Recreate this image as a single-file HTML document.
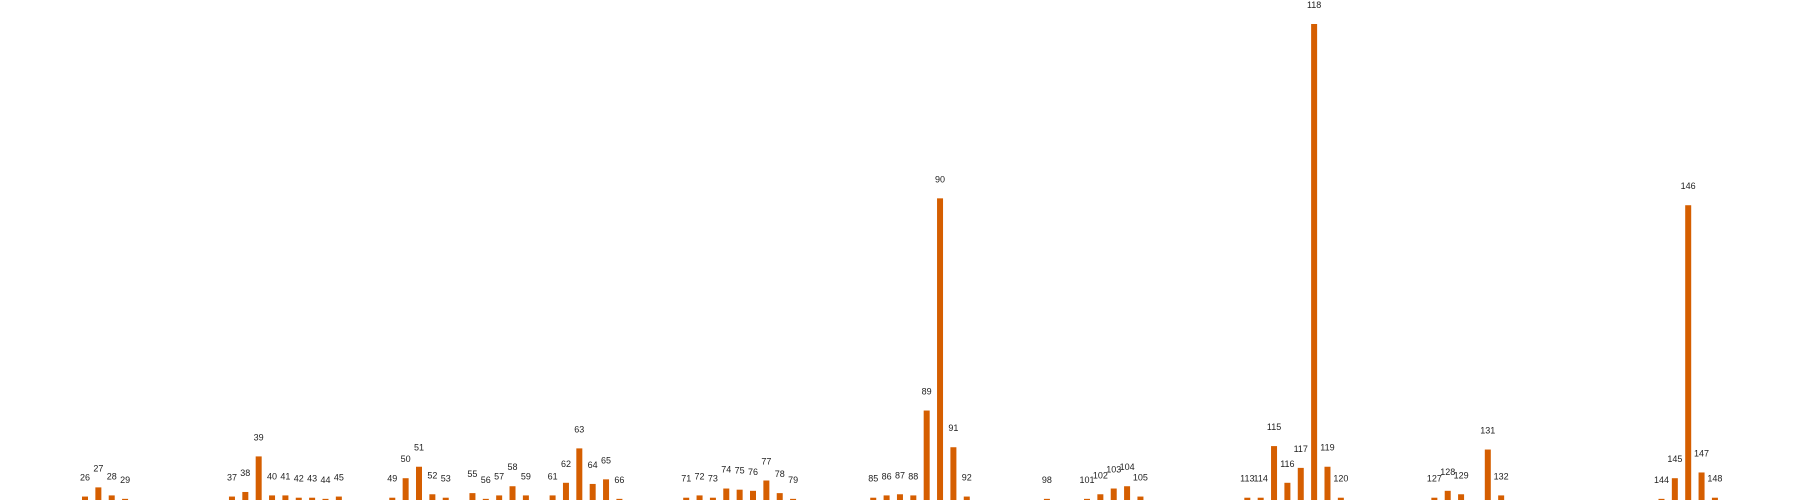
<!DOCTYPE html>
<html><head><meta charset="utf-8"><style>
html,body{margin:0;padding:0;background:#fff;}
svg{display:block;font-family:"Liberation Sans",sans-serif;}
</style></head><body>
<svg id="chart" width="1800" height="500" viewBox="0 0 1800 500"></svg>
<script>
const categories=[26,27,28,29,37,38,39,40,41,42,43,44,45,49,50,51,52,53,55,56,57,58,59,61,62,63,64,65,66,71,72,73,74,75,76,77,78,79,85,86,87,88,89,90,91,92,98,101,102,103,104,105,113,114,115,116,117,118,119,120,127,128,129,131,132,144,145,146,147,148];
const values=[3,11,4,1,3,7,38,4,4,2,2,1,3,2,19,29,5,2,6,1,4,12,4,4,15,45,14,18,1,2,4,2,10,9,8,17,6,1,2,4,5,4,78,263,46,3,1,1,5,10,12,3,2,2,47,15,28,415,29,2,2,8,5,44,4,1,19,257,24,2];
const svg=document.getElementById('chart');
const NS='http://www.w3.org/2000/svg';
function x(c){return 85+(c-26)*13.36;}
function y(v){return 500-v*(476/415);}
const bw=6;
categories.forEach((c,i)=>{
  const v=values[i];
  const r=document.createElementNS(NS,'rect');
  r.setAttribute('x',x(c)-bw/2);r.setAttribute('y',y(v));
  r.setAttribute('width',bw);r.setAttribute('height',500-y(v));
  r.setAttribute('fill','#d55e00');
  
  
  svg.appendChild(r);
  const t=document.createElementNS(NS,'text');
  t.setAttribute('x',x(c));t.setAttribute('y',y(v)-16);
  t.setAttribute('text-anchor','middle');t.setAttribute('font-size','9');
  t.setAttribute('fill','#222');
  t.textContent=c;
  
  
  svg.appendChild(t);
});
</script>
</body></html>
